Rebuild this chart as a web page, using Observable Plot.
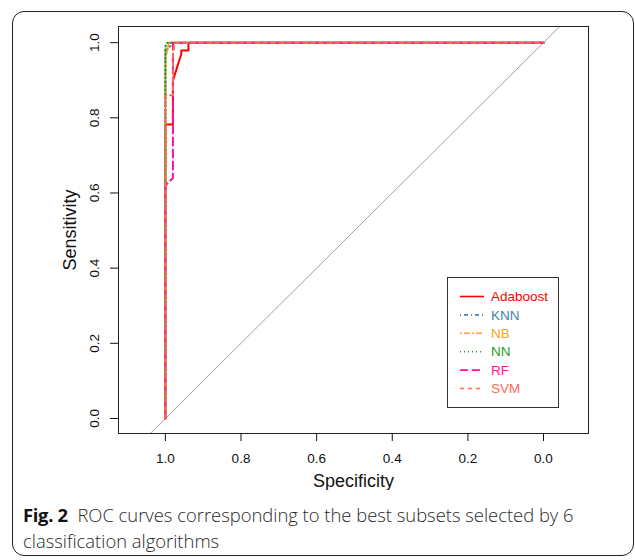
<!DOCTYPE html>
<html><head><meta charset="utf-8">
<script src="https://cdn.jsdelivr.net/npm/d3@7"></script>
<script src="https://cdn.jsdelivr.net/npm/@observablehq/plot@0.6"></script>
<style>
body{margin:0;background:#fff;font-family:"Liberation Sans",Arial,sans-serif}
#wrap{position:relative;width:635px;height:560px;overflow:hidden;background:#fff}
#border{position:absolute;left:12px;top:11px;width:622px;height:545px;border:1.2px solid #222;border-radius:12px;box-sizing:border-box}
#chart{position:absolute;left:0;top:0}
#legend{position:absolute;left:447px;top:277px;width:112px;height:131px;border:1px solid #333;box-sizing:border-box;background:#fff}
#caption{position:absolute;left:23px;top:502px;font-family:"Open Sans",sans-serif;font-size:18.4px;font-weight:300;line-height:26px;color:#2a2a2a;white-space:nowrap}
#caption b{color:#111;font-weight:700;letter-spacing:-0.3px}
</style></head><body>
<div id="wrap">
<div id="border"></div>
<div id="chart"></div>
<div id="legend"></div>
<div id="caption"><b>Fig. 2</b>&nbsp; ROC curves corresponding to the best subsets selected by 6<br>classification algorithms</div>
</div>
<script>
// Series definitions
const seriesNames = ["Adaboost", "KNN", "NB", "NN", "RF", "SVM"];
const seriesColors = ["#ff0000", "#4682b4", "#f5a623", "#1f9a1f", "#ff1493", "#fa6a5a"];
const seriesDash = [null, "1,3,4,3", "2,2,6,2", "1,3", "8,4", "4,4"];

// ROC points (specificity, sensitivity)
const adaboostSpec = [1, 1, 0.98, 0.98, 0.958, 0.958, 0.939, 0.939, 0];
const adaboostSens = [0, 0.782, 0.782, 0.899, 0.97, 0.979, 0.979, 1, 1];
const knnSpec = [1, 1, 0.975, 0];
const knnSens = [0, 0.98, 1, 1];
const nbSpec = [1, 1, 0.99, 0];
const nbSens = [0, 0.96, 1, 1];
const nnSpec = [1, 1, 0.995, 0];
const nnSens = [0, 0.99, 1, 1];
const rfSpec = [1, 1, 0.98, 0.98, 0];
const rfSens = [0, 0.62, 0.64, 1, 1];
const svmSpec = [1, 1, 0.98, 0.98, 0.975, 0];
const svmSens = [0, 0.86, 0.86, 0.97, 1, 1];

const xTicks = [1.0, 0.8, 0.6, 0.4, 0.2, 0.0];
const yTicks = [0.0, 0.2, 0.4, 0.6, 0.8, 1.0];
const xDomain = [1.124, -0.119];
const yDomain = [-0.04, 1.043];

const specs = [adaboostSpec, knnSpec, nbSpec, nnSpec, rfSpec, svmSpec];
const senss = [adaboostSens, knnSens, nbSens, nnSens, rfSens, svmSens];
const tables = seriesNames.map((name, i) => specs[i].map((s, j) => ({series: name, spec: s, sens: senss[i][j]})));

// chance diagonal sens = 1 - spec across the x domain
const diag = xDomain.map(s => ({spec: s, sens: 1 - s}));

const chart = Plot.plot({
  width: 635, height: 490,
  marginLeft: 118, marginRight: 47, marginTop: 26, marginBottom: 57,
  style: {fontFamily: "'Liberation Sans', Arial, sans-serif", background: "transparent", color: "#111"},
  x: {domain: xDomain},
  y: {domain: yDomain},
  marks: [
    Plot.line(diag, {x: "spec", y: "sens", stroke: "#a0a0a0", strokeWidth: 1, clip: true}),
    ...tables.map((t, i) => Plot.line(t, {x: "spec", y: "sens", stroke: seriesColors[i], strokeWidth: 2,
      strokeDasharray: seriesDash[i] || undefined, curve: "linear"})),
    Plot.frame({stroke: "#222", strokeWidth: 1}),
    Plot.axisX({ticks: xTicks, tickFormat: d => d.toFixed(1), tickSize: 8, tickPadding: 12, fontSize: 13.5, label: null}),
    Plot.axisY({ticks: yTicks, tickFormat: d => d.toFixed(1), tickSize: 8, tickPadding: 12, tickRotate: -90, fontSize: 13.5, label: null}),
    Plot.text(["Specificity"], {frameAnchor: "bottom", dy: 48, lineAnchor: "middle", textAnchor: "middle", fontSize: 18, fill: "#111"}),
    Plot.text(["Sensitivity"], {frameAnchor: "left", dx: -48, lineAnchor: "middle", textAnchor: "middle", rotate: -90, fontSize: 18, fill: "#111"})
  ]
});
document.getElementById("chart").appendChild(chart);

// Legend (R-style box)
const lg = d3.select("#legend").append("svg").attr("width", 110).attr("height", 129)
  .style("font-family", "'Liberation Sans', Arial, sans-serif");
seriesNames.forEach((name, i) => {
  const y = 18.5 + i * 18.4;
  lg.append("line").attr("x1", 12).attr("x2", 36).attr("y1", y).attr("y2", y)
    .attr("stroke", seriesColors[i]).attr("stroke-width", 1.6)
    .attr("stroke-dasharray", seriesDash[i]);
  lg.append("text").attr("x", 43).attr("y", y).attr("dy", "0.35em")
    .attr("font-size", 13.5).attr("fill", seriesColors[i]).text(name);
});
</script>
</body></html>
